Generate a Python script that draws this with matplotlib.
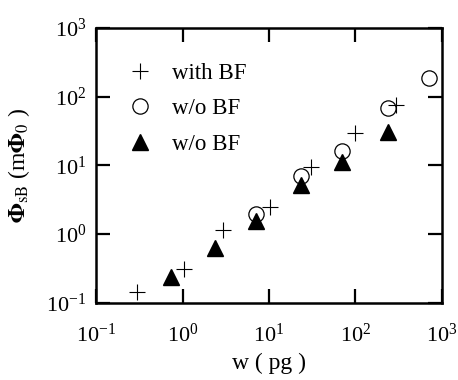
import matplotlib
matplotlib.use('Agg')
import matplotlib.pyplot as plt
from matplotlib.ticker import LogLocator, NullLocator

plt.rcParams['font.family'] = ['Liberation Serif', 'DejaVu Serif']
plt.rcParams['mathtext.fontset'] = 'stix'

# with BF (plus)
w_with = [0.3, 1.03, 2.95, 10.3, 30.5, 100, 300]
phi_with = [0.145, 0.31, 1.16, 2.5, 9.4, 29, 75]

# w/o BF (open circle)
w_open = [7.1, 23.5, 71, 238, 710]
phi_open = [1.95, 6.9, 16, 68, 185]

# w/o BF (filled triangle)
w_tri = [0.73, 2.4, 7.1, 23.5, 71, 238]
phi_tri = [0.235, 0.63, 1.55, 5.1, 11, 31]

fig = plt.figure(figsize=(4.58, 3.80), dpi=100)
ax = fig.add_axes([0.21, 0.203, 0.754, 0.724])

ax.plot(w_with, phi_with, ls='none', marker='+', ms=12, mew=0.8, color='black', label='with BF')
ax.plot(w_open, phi_open, ls='none', marker='o', ms=11, mew=0.9, mfc='none', mec='black', label='w/o BF')
ax.plot(w_tri, phi_tri, ls='none', marker='^', ms=11.5, color='black', label='w/o BF')

ax.set_xscale('log')
ax.set_yscale('log')
ax.set_xlim(0.1, 1000)
ax.set_ylim(0.1, 1000)
ax.xaxis.set_major_locator(LogLocator(base=10, numticks=10))
ax.yaxis.set_major_locator(LogLocator(base=10, numticks=10))
ax.xaxis.set_minor_locator(NullLocator())
ax.yaxis.set_minor_locator(NullLocator())

for s in ax.spines.values():
    s.set_linewidth(1.8)
ax.tick_params(which='major', direction='in', length=10, width=1.6,
               top=True, right=True, labelsize=16)
ax.tick_params(axis='x', pad=15)
ax.tick_params(axis='y', pad=7)

ax.set_xlabel('w ( pg )', fontsize=17, labelpad=4)
ax.set_ylabel(r'$\mathbf{\Phi}_{\rm sB}$ (m$\mathbf{\Phi}_{0}$ )', fontsize=17, labelpad=10)

ax.legend(loc='upper left', frameon=False, fontsize=16.5, handletextpad=0.8,
          labelspacing=0.62, borderaxespad=0.6, handlelength=1.2,
          bbox_to_anchor=(0.02, 0.955))

fig.savefig('out.png', dpi=100)
